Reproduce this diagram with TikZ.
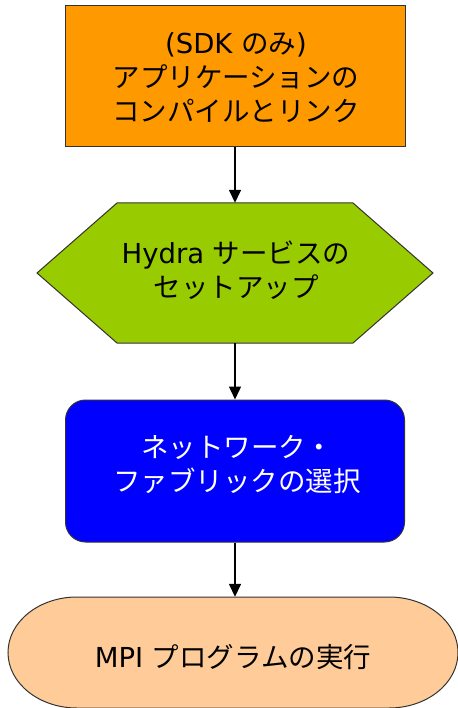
\documentclass[tikz,border=0pt]{standalone}
\usepackage{fontspec}
\setmainfont{DejaVu Sans}
\newfontfamily\jp{Noto Sans CJK JP}
\usetikzlibrary{arrows.meta}
\definecolor{cOrange}{HTML}{FF9900}
\definecolor{cGreen}{HTML}{99CC00}
\definecolor{cBlue}{HTML}{0000FF}
\definecolor{cPeach}{HTML}{FFCC99}
\definecolor{cBorder}{HTML}{333333}
\tikzset{
  lbl/.style={align=center, font=\fontsize{27.5}{34}\selectfont, text=black},
  shapebox/.style={draw=cBorder, line width=1pt},
  flow/.style={-{Triangle[width=12pt,length=13pt]}, line width=1.5pt, black},
}
\begin{document}
\begin{tikzpicture}[x=1pt,y=-1pt]
\useasboundingbox (0,0) rectangle (457,708);
% box 1
\node[shapebox, fill=cOrange, minimum width=340pt, minimum height=141pt, inner sep=0pt] (b1) at (235,76.5) {};
\node[lbl] (t1) at (236,78) {(SDK {\jp のみ})\\{\jp アプリケーションの}\\{\jp コンパイルとリンク}};
% hexagon
\node[minimum width=396pt, minimum height=140pt, inner sep=0pt] (hex) at (235,273) {};
\draw[shapebox, fill=cGreen] (117,203) -- (353,203) -- (433,273) -- (353,343) -- (117,343) -- (37,273) -- cycle;
\node[lbl] (t2) at (236,270) {Hydra {\jp サービスの}\\{\jp セットアップ}};
% box 3
\node[shapebox, fill=cBlue, rounded corners=20pt, minimum width=339pt, minimum height=142pt, inner sep=0pt] (b3) at (235,471) {};
\node[lbl, text=white] (t3) at (237,465) {{\jp ネットワーク・}\\{\jp ファブリックの選択}};
% stadium
\node[minimum width=450pt, minimum height=111pt, inner sep=0pt] (st) at (235,652.5) {};
\draw[shapebox, fill=cPeach] (77,597) -- (389,597) arc[start angle=-90, end angle=90, x radius=69, y radius=55.5] -- (77,708) arc[start angle=90, end angle=270, x radius=69, y radius=55.5] -- cycle;
\node[lbl] (t4) at (233,657) {MPI {\jp プログラムの実行}};
% connectors
\draw[flow] (b1.south) -- (hex.north);
\draw[flow] (hex.south) -- (b3.north);
\draw[flow] (b3.south) -- (st.north);
\end{tikzpicture}
\end{document}
